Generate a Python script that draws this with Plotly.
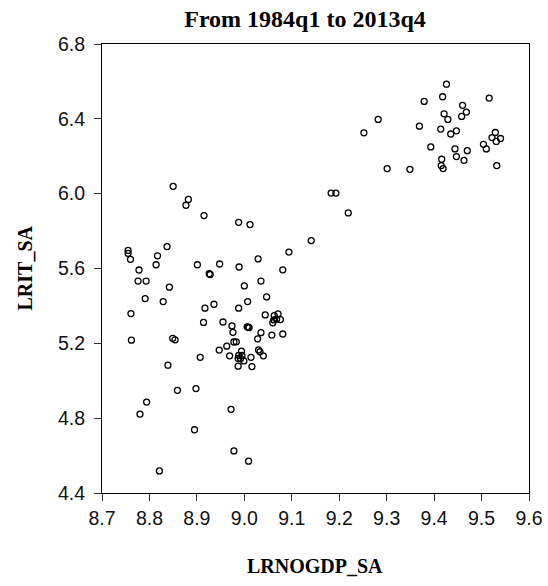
import plotly.graph_objects as go

# LRNOGDP_SA (x) and LRIT_SA (y)
lrnogdp_sa = [
    8.850, 8.882, 8.877, 8.915, 8.755, 8.755, 8.760, 8.837, 8.817, 8.814,
    8.778, 8.776, 8.793, 8.842, 8.791, 8.829, 8.761, 8.901, 8.926, 8.928,
    8.948, 8.917, 8.936, 8.914, 8.762, 8.849, 8.854, 8.907, 8.947, 8.839,
    8.859, 8.898, 8.794, 8.780, 8.895, 8.821,
    8.988, 9.012, 9.183, 9.193, 9.219, 9.141, 9.094, 9.029, 9.081, 8.989,
    9.035, 9.000, 9.047, 9.007, 8.988, 8.955, 8.974, 9.008, 9.010, 9.006,
    9.044, 9.063, 9.071, 9.062, 9.060, 9.068, 9.076, 8.976, 9.035, 9.028,
    9.058, 9.081, 8.978, 8.983, 8.963, 8.994, 9.030, 9.033, 9.040, 8.969,
    8.988, 8.995, 8.992, 8.999, 8.987, 9.014, 8.987, 9.016, 8.972, 8.978,
    9.009,
    9.426, 9.418, 9.379, 9.516, 9.460, 9.468, 9.458, 9.421, 9.429, 9.282,
    9.252, 9.369, 9.414, 9.447, 9.435, 9.529, 9.522, 9.540, 9.531, 9.504,
    9.510, 9.393, 9.444, 9.470, 9.447, 9.463, 9.416, 9.415, 9.419, 9.532,
    9.301, 9.349,
]
lrit_sa = [
    6.039, 5.969, 5.938, 5.883, 5.697, 5.681, 5.649, 5.717, 5.668, 5.620,
    5.592, 5.533, 5.533, 5.500, 5.439, 5.423, 5.359, 5.620, 5.572, 5.568,
    5.624, 5.388, 5.409, 5.312, 5.217, 5.227, 5.219, 5.125, 5.164, 5.083,
    4.949, 4.958, 4.886, 4.822, 4.738, 4.518,
    5.847, 5.835, 6.003, 6.003, 5.897, 5.749, 5.688, 5.651, 5.593, 5.608,
    5.533, 5.507, 5.448, 5.423, 5.388, 5.314, 5.293, 5.286, 5.284, 5.288,
    5.352, 5.348, 5.357, 5.325, 5.310, 5.329, 5.327, 5.259, 5.257, 5.224,
    5.244, 5.250, 5.207, 5.208, 5.185, 5.158, 5.165, 5.155, 5.133, 5.133,
    5.135, 5.135, 5.119, 5.106, 5.119, 5.125, 5.078, 5.076, 4.847, 4.625,
    4.570,
    6.585, 6.518, 6.493, 6.511, 6.472, 6.436, 6.413, 6.427, 6.397, 6.397,
    6.325, 6.361, 6.345, 6.336, 6.319, 6.327, 6.300, 6.295, 6.279, 6.264,
    6.239, 6.250, 6.239, 6.230, 6.198, 6.178, 6.184, 6.150, 6.134, 6.150,
    6.134, 6.130,
]

x_ticks = [8.7, 8.8, 8.9, 9.0, 9.1, 9.2, 9.3, 9.4, 9.5, 9.6]
y_ticks = [4.4, 4.8, 5.2, 5.6, 6.0, 6.4, 6.8]

serif = "Liberation Serif, Times New Roman, serif"
sans = "Liberation Sans, Arial, sans-serif"

fig = go.Figure(go.Scatter(
    x=lrnogdp_sa, y=lrit_sa, mode="markers",
    marker=dict(symbol="circle-open", size=6, color="black",
                line=dict(width=1.3, color="black")),
    showlegend=False,
))

axis_common = dict(
    showline=True, linecolor="black", linewidth=1.2, mirror=True,
    ticks="outside", ticklen=7, tickwidth=1, tickcolor="#333",
    showgrid=False, zeroline=False, automargin=False,
    tickfont=dict(family=sans, size=19.5, color="#111"),
)

fig.update_layout(
    width=548, height=586,
    margin=dict(l=102, r=19, t=44, b=93),
    paper_bgcolor="white", plot_bgcolor="white",
    title=dict(text="<b>From 1984q1 to 2013q4</b>", xref="container",
               x=305 / 548, xanchor="center",
               yref="container", y=1 - 19 / 586, yanchor="middle",
               font=dict(family=serif, size=24, color="black")),
    xaxis=dict(range=[8.7, 9.6], tickvals=x_ticks,
               ticktext=[f"{v:.1f}" for v in x_ticks], **axis_common),
    yaxis=dict(range=[4.4, 6.8], tickvals=y_ticks, ticklabelstandoff=5,
               ticktext=[f"{v:.1f}" for v in y_ticks], **axis_common),
    annotations=[
        dict(text="<b>LRNOGDP_SA</b>", xref="paper", yref="paper",
             x=(314.5 - 102) / 427, y=0, yshift=-73, yanchor="middle",
             showarrow=False,
             font=dict(family=serif, size=20, color="black")),
        dict(text="<b>LRIT_SA</b>", xref="paper", yref="paper",
             x=0, y=0.5, xshift=-78, xanchor="center", textangle=-90,
             showarrow=False,
             font=dict(family=serif, size=20, color="black")),
    ],
)

fig.write_html(
    "out.html",
    config={"displayModeBar": False},
    post_script="document.body.style.margin='0';"
                "document.body.style.overflow='hidden';",
)
